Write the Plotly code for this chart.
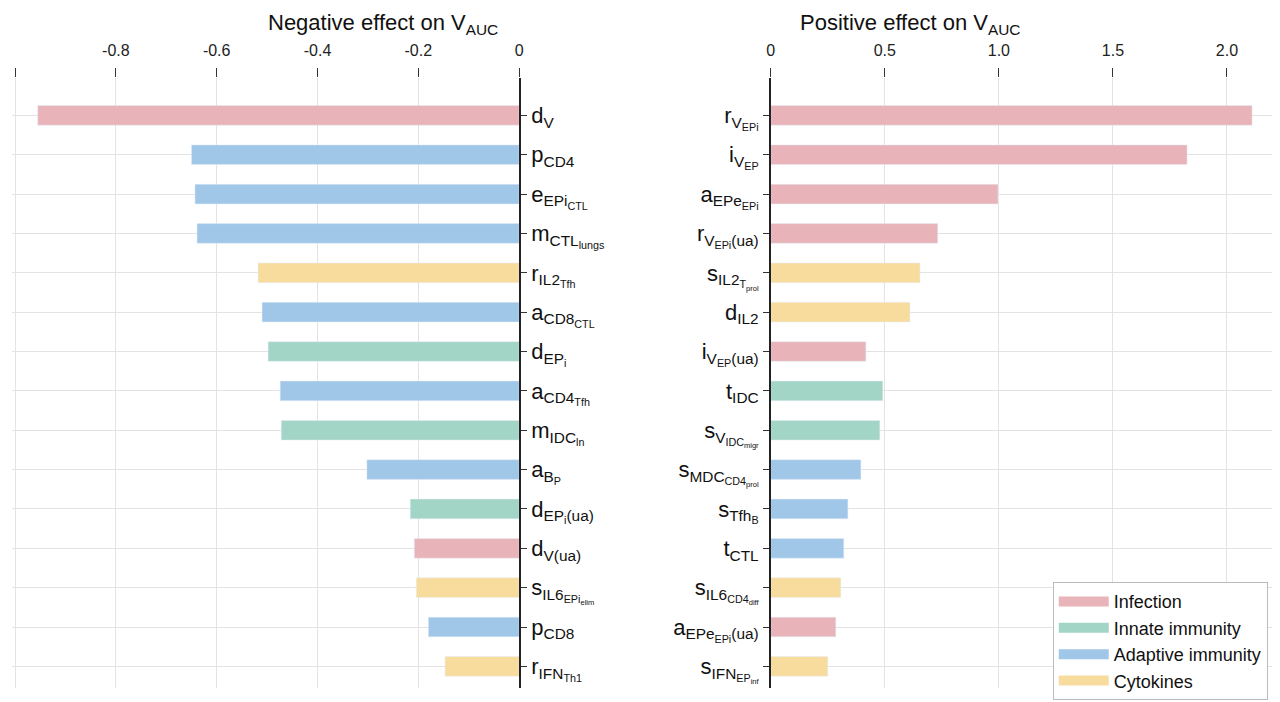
import plotly.graph_objects as go
from plotly.subplots import make_subplots

neg_labels = ["d<sub>V</sub>", "p<sub>CD4</sub>", "e<sub>EPi<sub>CTL</sub></sub>", "m<sub>CTL<sub>lungs</sub></sub>",
              "r<sub>IL2<sub>Tfh</sub></sub>", "a<sub>CD8<sub>CTL</sub></sub>", "d<sub>EP<sub>i</sub></sub>",
              "a<sub>CD4<sub>Tfh</sub></sub>", "m<sub>IDC<sub>ln</sub></sub>", "a<sub>B<sub>P</sub></sub>",
              "d<sub>EP<sub>i</sub>(ua)</sub>", "d<sub>V(ua)</sub>", "s<sub>IL6<sub>EPi<sub>elim</sub></sub></sub>",
              "p<sub>CD8</sub>", "r<sub>IFN<sub>Th1</sub></sub>"]
neg_values = [-0.955, -0.65, -0.643, -0.639, -0.518, -0.51, -0.498, -0.474, -0.472, -0.302,
              -0.216, -0.208, -0.204, -0.18, -0.147]
neg_groups = ["Infection", "Adaptive immunity", "Adaptive immunity", "Adaptive immunity", "Cytokines",
              "Adaptive immunity", "Innate immunity", "Adaptive immunity", "Innate immunity", "Adaptive immunity",
              "Innate immunity", "Infection", "Cytokines", "Adaptive immunity", "Cytokines"]

pos_labels = ["r<sub>V<sub>EPi</sub></sub>", "i<sub>V<sub>EP</sub></sub>", "a<sub>EPe<sub>EPi</sub></sub>",
              "r<sub>V<sub>EPi</sub>(ua)</sub>", "s<sub>IL2<sub>T<sub>prol</sub></sub></sub>", "d<sub>IL2</sub>",
              "i<sub>V<sub>EP</sub>(ua)</sub>", "t<sub>IDC</sub>", "s<sub>V<sub>IDC<sub>migr</sub></sub></sub>",
              "s<sub>MDC<sub>CD4<sub>prol</sub></sub></sub>", "s<sub>Tfh<sub>B</sub></sub>", "t<sub>CTL</sub>",
              "s<sub>IL6<sub>CD4<sub>diff</sub></sub></sub>", "a<sub>EPe<sub>EPi</sub>(ua)</sub>",
              "s<sub>IFN<sub>EP<sub>inf</sub></sub></sub>"]
pos_values = [2.11, 1.825, 0.996, 0.732, 0.654, 0.61, 0.417, 0.491, 0.478, 0.395, 0.338, 0.32, 0.307, 0.285, 0.25]
pos_groups = ["Infection", "Infection", "Infection", "Infection", "Cytokines", "Cytokines", "Infection",
              "Innate immunity", "Innate immunity", "Adaptive immunity", "Adaptive immunity", "Adaptive immunity",
              "Cytokines", "Infection", "Cytokines"]

group_order = ["Infection", "Innate immunity", "Adaptive immunity", "Cytokines"]
colors = {"Infection": "#e8b4b9", "Innate immunity": "#a2d5c6", "Adaptive immunity": "#a0c6e8", "Cytokines": "#f8dc9d"}

fig = make_subplots(rows=1, cols=2, horizontal_spacing=0.1)

for g in group_order:
    xs = [v for v, gg in zip(neg_values, neg_groups) if gg == g]
    ys = [l for l, gg in zip(neg_labels, neg_groups) if gg == g]
    fig.add_trace(go.Bar(x=xs, y=ys, orientation="h", marker_color=colors[g], width=0.5,
                         name=g, showlegend=False), row=1, col=1)
    xs = [v for v, gg in zip(pos_values, pos_groups) if gg == g]
    ys = [l for l, gg in zip(pos_labels, pos_groups) if gg == g]
    fig.add_trace(go.Bar(x=xs, y=ys, orientation="h", marker_color=colors[g], width=0.5,
                         name=g, showlegend=False), row=1, col=2)
    fig.add_trace(go.Scatter(x=[None], y=[None], mode="lines", name=g,
                             line=dict(color=colors[g], width=16)), row=1, col=2)

axcommon = dict(showgrid=True, gridcolor="#e3e3e3", ticks="outside", ticklen=9, tickcolor="#333",
                showline=False, ticklabelstandoff=6,
                tickfont=dict(family="Liberation Sans, Arial", size=16, color="#222"))
fig.update_xaxes(**axcommon, side="top", zeroline=False)
fig.update_xaxes(domain=[0.0, 0.399], range=[-1.006, 0], tickvals=[-1, -0.8, -0.6, -0.4, -0.2, 0],
                 ticktext=["-1.0", "-0.8", "-0.6", "-0.4", "-0.2", "0"], row=1, col=1)
fig.update_xaxes(domain=[0.597, 0.9945], range=[0, 2.215], tickvals=[0, 0.5, 1, 1.5, 2],
                 ticktext=["0", "0.5", "1.0", "1.5", "2.0"], row=1, col=2)
ycommon = dict(showgrid=True, gridcolor="#e3e3e3", ticks="outside", ticklen=6, tickcolor="#333",
               showline=True, linecolor="#222", linewidth=1.5,
               tickfont=dict(family="Liberation Sans, Arial", size=22, color="#111"))
fig.update_yaxes(**ycommon, side="right", categoryorder="array", categoryarray=neg_labels,
                 range=[14.55, -0.95], row=1, col=1)
fig.update_yaxes(**ycommon, side="left", categoryorder="array", categoryarray=pos_labels,
                 range=[14.55, -0.95], row=1, col=2)

fig.add_annotation(text="Negative effect on V<sub>AUC</sub>", x=0.2, y=1.0, xref="paper", yref="paper",
                   yshift=70, showarrow=False, font=dict(family="Liberation Sans, Arial", size=22, color="#111"))
fig.add_annotation(text="Positive effect on V<sub>AUC</sub>", x=0.795, y=1.0, xref="paper", yref="paper",
                   yshift=70, showarrow=False, font=dict(family="Liberation Sans, Arial", size=22, color="#111"))

fig.update_layout(width=1280, height=702, margin=dict(l=0, r=0, t=70, b=22),
                  plot_bgcolor="white", paper_bgcolor="white",
                  legend=dict(x=0.988, y=-0.02, xanchor="right", yanchor="bottom",
                              bgcolor="white", bordercolor="#bbb", borderwidth=1,
                              font=dict(family="Liberation Sans, Arial", size=18, color="#111"),
                              itemwidth=50))
fig.write_html("out.html")
